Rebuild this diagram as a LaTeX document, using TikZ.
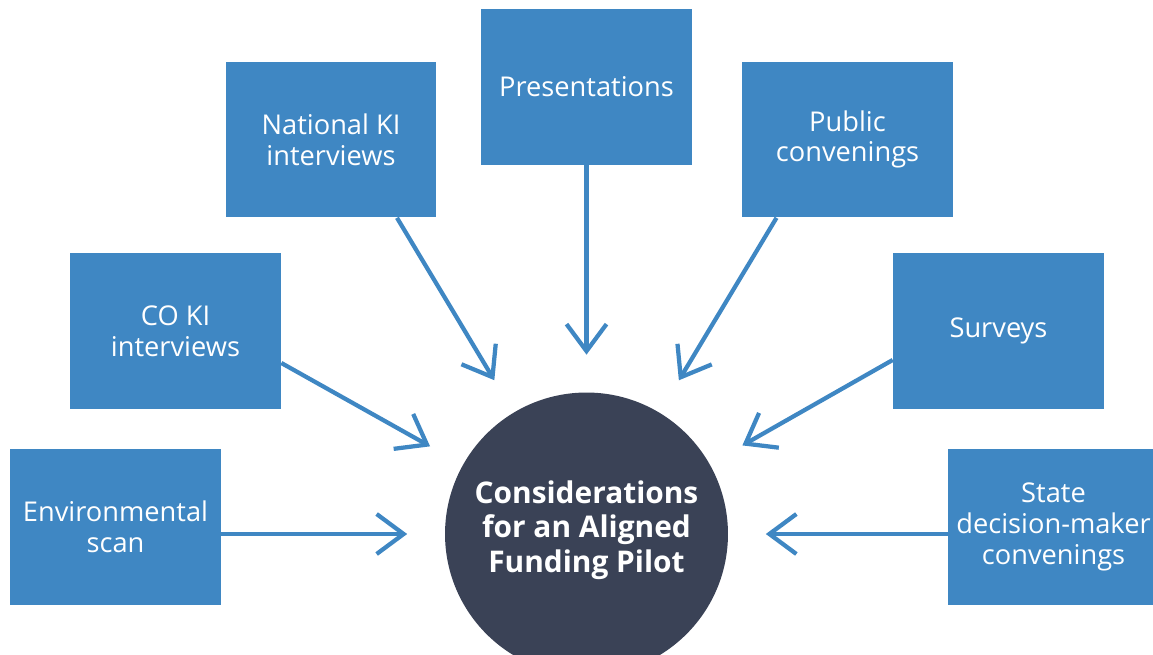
\documentclass[tikz,border=0pt]{standalone}
\usepackage{fontspec}
\setsansfont{Open Sans}
\usetikzlibrary{arrows.meta}

\definecolor{boxblue}{HTML}{3F87C3}
\definecolor{hubdark}{HTML}{3A4256}

\tikzset{
    source/.style={fill=boxblue, draw=none, inner sep=0pt, minimum width=4.22cm, minimum height=3.12cm, text=white, align=center, node font=\fontsize{15.5}{17.5}\selectfont\sffamily},
    hub/.style={circle, fill=hubdark, draw=none, inner sep=0pt, minimum size=5.66cm, text depth=0.3cm, text=white, align=center, node font=\fontsize{17}{19.5}\selectfont\sffamily\bfseries},
    feed/.style={draw=boxblue, line width=0.085cm, shorten >=0.75cm, -{Straight Barb[length=0.54cm, width=0.8cm]}}
}

\begin{document}
\begin{tikzpicture}[x=0.02cm, y=-0.02cm]

    \useasboundingbox (0,0) rectangle (1153,655);

    \node[hub] (hub) at (586.5,534) {Considerations\\for an Aligned\\Funding Pilot};

    \node[source] (pres) at (586.5,87) {Presentations};
    \node[source] (natki) at (331,139.5) {National KI\\interviews};
    \node[source] (public) at (847.5,139.5) {Public\\convenings};
    \node[source] (coki) at (175.5,331) {CO KI\\interviews};
    \node[source] (surveys) at (998.5,331) {Surveys};
    \node[source] (env) at (115.5,527) {Environmental\\scan};
    \node[source] (state) at (1053.5,527) {State\\decision-maker\\convenings};

    \draw[feed] (pres.south) -- (hub);
    \draw[feed] ([xshift=1.32cm]natki.south) -- (hub);
    \draw[feed] ([xshift=-1.42cm]public.south) -- (hub);
    \draw[feed] ([yshift=-0.64cm]coki.east) -- (hub);
    \draw[feed] ([yshift=-0.58cm]surveys.west) -- (hub);
    \draw[feed] (env.east |- hub) -- (hub);
    \draw[feed] (state.west |- hub) -- (hub);

\end{tikzpicture}
\end{document}
